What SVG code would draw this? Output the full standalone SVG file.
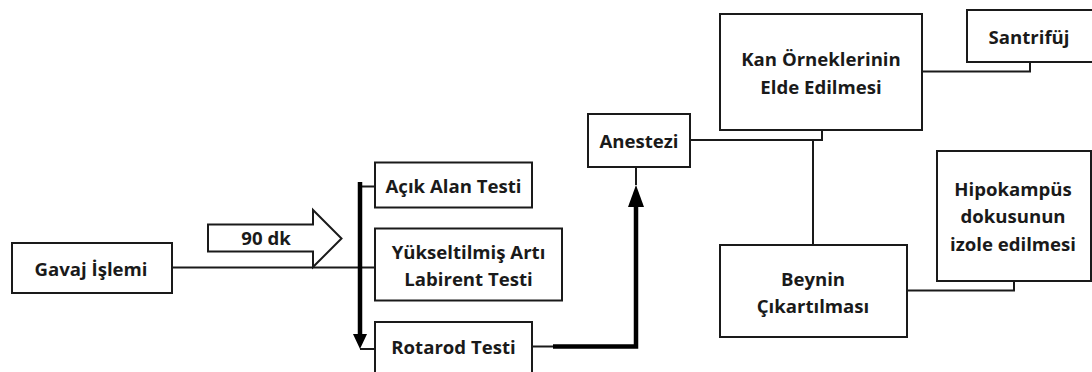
<svg xmlns="http://www.w3.org/2000/svg" width="1092" height="372" viewBox="0 0 1092 372">
<style>
.box{fill:#fff;stroke:#1a1a1a;stroke-width:2}
.t{font-family:"Open Sans","Liberation Sans",sans-serif;font-weight:700;font-size:18.6px;fill:#1a1a1a;text-anchor:middle;dominant-baseline:central}
.thin{fill:none;stroke:#1a1a1a;stroke-width:2}
.thick{fill:none;stroke:#000;stroke-width:4.5}
</style>
<g id="connectors">
<path class="thin" d="M172 267.5 H376"/>
<path class="thin" d="M360 186.5 H376 M360 349 H376"/>
<path class="thick" d="M360 182 V336"/>
<polygon points="353,334 367,334 360,349" fill="#000"/>
<path class="thin" d="M532 346.5 H555"/>
<path class="thick" d="M553 346.5 H636 V205"/>
<polygon points="628,207 644,207 636,185" fill="#000"/>
<path class="thin" d="M636 185 V167"/>
<path class="thin" d="M690 140 H822 V130"/>
<path class="thin" d="M813 140 V245"/>
<path class="thin" d="M922 71.5 H1030 V62"/>
<path class="thin" d="M907 290.5 H1014 V281"/>
</g>
<g id="arrow90">
<polygon class="thin" points="208,224.5 313,224.5 313,210 341.5,238.5 313,267 313,251.5 208,251.5" style="fill:#fff"/>
<text class="t" x="266" y="237">90 dk</text>
</g>
<g id="gavaj"><rect class="box" x="12" y="243" width="160" height="50"/><text class="t" x="91" y="268">Gavaj İşlemi</text></g>
<g id="acik"><rect class="box" x="375" y="162.5" width="157" height="45"/><text class="t" x="453.5" y="185">Açık Alan Testi</text></g>
<g id="yuksel"><rect class="box" x="375" y="228.5" width="187" height="72"/><text class="t" x="468.5" y="251">Yükseltilmiş Artı</text><text class="t" x="468.5" y="278">Labirent Testi</text></g>
<g id="rotarod"><rect class="box" x="375" y="322" width="157" height="52"/><text class="t" x="453.5" y="346.5">Rotarod Testi</text></g>
<g id="anestezi"><rect class="box" x="588" y="114" width="102" height="53"/><text class="t" x="639" y="140">Anestezi</text></g>
<g id="kan"><rect class="box" x="720" y="14" width="202" height="116"/><text class="t" x="821" y="58">Kan Örneklerinin</text><text class="t" x="821" y="86">Elde Edilmesi</text></g>
<g id="santrifuj"><rect class="box" x="967" y="10" width="130" height="52"/><text class="t" x="1029" y="36">Santrifüj</text></g>
<g id="hipokampus"><rect class="box" x="937" y="151" width="154" height="130"/><text class="t" x="1013" y="188">Hipokampüs</text><text class="t" x="1013" y="215">dokusunun</text><text class="t" x="1013" y="243">izole edilmesi</text></g>
<g id="beynin"><rect class="box" x="720" y="245" width="187" height="92"/><text class="t" x="813" y="278">Beynin</text><text class="t" x="813" y="305">Çıkartılması</text></g>
</svg>
